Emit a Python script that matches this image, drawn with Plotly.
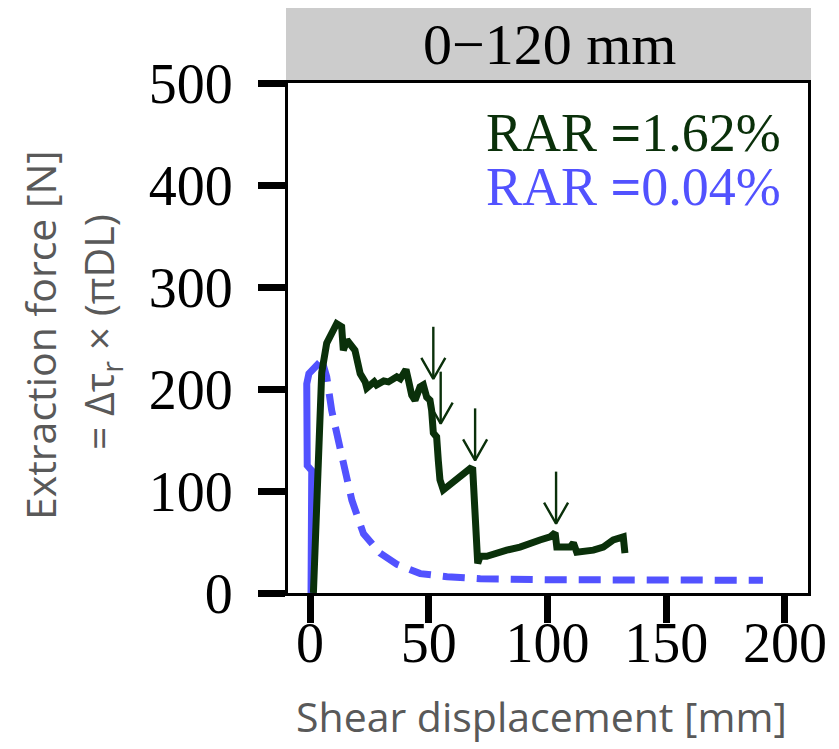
import plotly.graph_objects as go

# ---- data ----
green_x = [1.4, 3.2, 4.2, 4.9, 7.0, 11.2, 13.3, 14.0, 15.5, 17.6, 18.9, 21.1, 23.2, 23.9,
           25.5, 27.0, 28.0, 29.5, 31.0, 33.0, 35.0, 36.5, 38.0, 39.3, 40.4, 41.4, 42.8,
           44.2, 46.3, 47.7, 49.1, 50.5, 51.2, 51.9, 53.3, 54.0, 54.7, 56.1, 57.6, 63.2,
           67.4, 68.5, 69.5, 70.6, 71.6, 74.4, 82.8, 88.4, 96.8, 101.1, 103.2, 103.9,
           109.5, 110.9, 112.3, 119.3, 123.5, 127.7, 131.9, 132.6]
green_y = [0, 110, 189, 216, 245, 264, 261, 238, 248, 241, 238, 215, 207, 201,
           204, 207, 204, 206, 208, 207, 211, 212, 210, 214, 219, 209, 194,
           189, 202, 204, 192, 189, 179, 157, 153, 130, 111, 101, 104, 114,
           122, 121, 78, 29, 36, 36, 42, 45, 52, 55, 59, 45,
           45, 49, 40, 42, 45, 52, 55, 39]

blue_x = [0.4, 0.7, -1.2, -1.4, -0.5, 2.0, 4.0, 5.5, 7.0, 9.1, 13.4, 17.6, 22.5, 29.5,
          36.6, 46.4, 57.7, 71.7, 100.0, 136.0, 150.0, 170.0, 190.7]
blue_y = [0, 120, 125, 205, 215, 222, 226, 224, 212, 179, 134, 91, 58, 39,
          28, 19, 16, 14, 13, 13, 12.5, 13.5, 12.5]
blue_peak_index = 6

arrow_x = [51.9, 55.0, 69.5, 103.6]
arrow_tail_y = [261, 217, 181, 119]
arrow_tip_y = [210, 166, 130, 68]

x_ticks = [0, 50, 100, 150, 200]
y_ticks = [0, 100, 200, 300, 400, 500]

panel_title = "0\u2212120 mm"
label_green = "RAR <b>=</b>1.62%"
label_blue = "RAR <b>=</b>0.04%"

GREEN = "#0a300a"
BLUE = "#5252ff"

# page has an 8px body margin; layout is specified in page pixels
OFF = 8
W, H = 839 - OFF, 749 - OFF
L, R, T, B = 288 - OFF, 31, 83 - OFF, 156
PW, PH = W - L - R, H - T - B

X_RANGE = [-9.3, 209.7]
Y_RANGE = [0, 500]
# arrowhead size in pixels (style)
HEAD_HALF_W_PX, HEAD_LEN_PX = 12, 21


def px_x(p):
    return (p - OFF - L) / PW


def px_y(p):
    return 1 - (p - OFF - T) / PH


fig = go.Figure()

fig.add_trace(go.Scatter(x=blue_x[:blue_peak_index + 1], y=blue_y[:blue_peak_index + 1],
                         mode="lines", line=dict(color=BLUE, width=7),
                         showlegend=False, hoverinfo="skip"))
fig.add_trace(go.Scatter(x=blue_x[blue_peak_index:], y=blue_y[blue_peak_index:],
                         mode="lines", line=dict(color=BLUE, width=7, dash="22px,12px"),
                         showlegend=False, hoverinfo="skip"))
fig.add_trace(go.Scatter(x=green_x, y=green_y, mode="lines",
                         line=dict(color=GREEN, width=7),
                         showlegend=False, hoverinfo="skip"))

# arrows: shaft + open V head, built from the arrow data via axis scale
ux = (X_RANGE[1] - X_RANGE[0]) / PW
uy = (Y_RANGE[1] - Y_RANGE[0]) / PH
ax_pts, ay_pts = [], []
for xa, tail, tip in zip(arrow_x, arrow_tail_y, arrow_tip_y):
    ax_pts += [xa, xa, None,
               xa - HEAD_HALF_W_PX * ux, xa, xa + HEAD_HALF_W_PX * ux, None]
    ay_pts += [tail, tip, None,
               tip + HEAD_LEN_PX * uy, tip, tip + HEAD_LEN_PX * uy, None]
fig.add_trace(go.Scatter(x=ax_pts, y=ay_pts, mode="lines",
                         line=dict(color=GREEN, width=2.4),
                         showlegend=False, hoverinfo="skip"))

serif = "Liberation Serif"
sans = "Open Sans"

# strip
fig.add_shape(type="rect", xref="paper", yref="paper",
              x0=px_x(286), x1=px_x(811), y0=1, y1=px_y(7),
              fillcolor="#cccccc", line=dict(width=0), layer="below")
fig.add_annotation(xref="paper", yref="paper", x=px_x(549), y=px_y(44),
                   text=panel_title, showarrow=False,
                   font=dict(family=serif, size=58, color="black"),
                   xanchor="center", yanchor="middle")

fig.add_annotation(xref="paper", yref="paper", x=px_x(783), y=px_y(133),
                   text=label_green, showarrow=False,
                   font=dict(family=serif, size=54, color=GREEN),
                   xanchor="right", yanchor="middle")
fig.add_annotation(xref="paper", yref="paper", x=px_x(783), y=px_y(187),
                   text=label_blue, showarrow=False,
                   font=dict(family=serif, size=54, color=BLUE),
                   xanchor="right", yanchor="middle")

# axis titles
fig.add_annotation(xref="paper", yref="paper", x=px_x(40), y=px_y(335),
                   text="Extraction force [N]", showarrow=False, textangle=-90,
                   font=dict(family=sans, size=41, color="#595959"),
                   xanchor="center", yanchor="middle")
fig.add_annotation(xref="paper", yref="paper", x=px_x(100), y=px_y(332),
                   text="= \u0394\u03c4<sub>r</sub> \u00d7 (\u03c0DL)", showarrow=False,
                   textangle=-90,
                   font=dict(family=sans, size=41, color="#595959"),
                   xanchor="center", yanchor="middle")
fig.add_annotation(xref="paper", yref="paper", x=px_x(541), y=px_y(716),
                   text="Shear displacement [mm]", showarrow=False,
                   font=dict(family=sans, size=41, color="#595959"),
                   xanchor="center", yanchor="middle")

axis_common = dict(showline=True, linecolor="black", linewidth=3, mirror=True,
                   ticks="outside", ticklen=27, tickwidth=7, tickcolor="black",
                   showgrid=False, zeroline=False, automargin=False,
                   tickfont=dict(family=serif, size=56, color="black"))

fig.update_xaxes(range=X_RANGE, tickvals=x_ticks,
                 ticktext=[str(v) for v in x_ticks], ticklabelstandoff=-28,
                 **axis_common)
fig.update_yaxes(range=Y_RANGE, tickvals=y_ticks,
                 ticktext=[str(v) for v in y_ticks], ticklabelstandoff=14,
                 **axis_common)

fig.update_layout(width=W, height=H, margin=dict(l=L, r=R, t=T, b=B),
                  paper_bgcolor="white", plot_bgcolor="white")

fig.write_html("out.html")
